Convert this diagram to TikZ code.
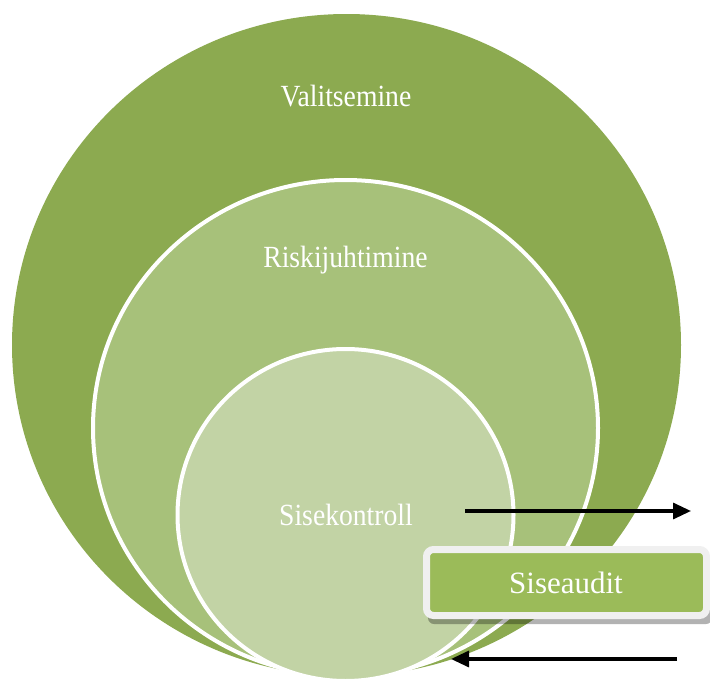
\documentclass[tikz,border=0pt]{standalone}
\usepackage{fontspec}
\setmainfont{Liberation Serif}
\usetikzlibrary{arrows.meta,shapes.geometric}
\definecolor{outerG}{HTML}{8CAA50}
\definecolor{midG}{HTML}{A7C17A}
\definecolor{innG}{HTML}{C2D3A5}
\definecolor{boxG}{HTML}{9BBB59}
\definecolor{boxRim}{HTML}{F0F0F0}
\tikzset{
  lbl/.style={text=white, anchor=base, inner sep=0pt, font=\fontsize{28.5}{30}\selectfont},
  ring/.style={draw=white, line width=4pt},
  arr/.style={line width=3.2pt, -{Triangle[length=18pt,width=16pt]}}
}
\begin{document}
\begin{tikzpicture}[x=1pt,y=-1pt]
\useasboundingbox (0,0) rectangle (710,680);
\begin{scope}
\clip (0,0) rectangle (710,680);
% ellipses
\fill[outerG] (346.5,345) ellipse [x radius=334.5, y radius=331];
\path[ring, fill=midG] (345.5,428) ellipse [x radius=252.5, y radius=248];
\path[ring, fill=innG] (345.5,515) ellipse [x radius=168, y radius=166];
% labels
\node[lbl] (val) at (346,106) {\scalebox{0.97}[1.08]{Valitsemine}};
\node[lbl] (risk) at (345.5,267) {\scalebox{0.97}[1.08]{Riskijuhtimine}};
\node[lbl] (sise) at (346,525) {\scalebox{0.97}[1.08]{Sisekontroll}};
% Siseaudit box
\fill[black, opacity=0.3, rounded corners=6pt] (428,565) rectangle (712,624);
\path[draw=boxRim, line width=7pt, fill=boxG, rounded corners=7pt] (426.5,549.5) rectangle (706.5,615.5);
\node[text=white, anchor=base, inner sep=0pt, font=\fontsize{31}{33}\selectfont] (audit) at (566,593) {Siseaudit};
% arrows
\coordinate (a1s) at (465,511);
\coordinate (a1e) at (691,511);
\coordinate (a2s) at (677,659);
\coordinate (a2e) at (451,659);
\draw[arr] (a1s) -- (a1e);
\draw[arr] (a2s) -- (a2e);
\end{scope}
\end{tikzpicture}
\end{document}
